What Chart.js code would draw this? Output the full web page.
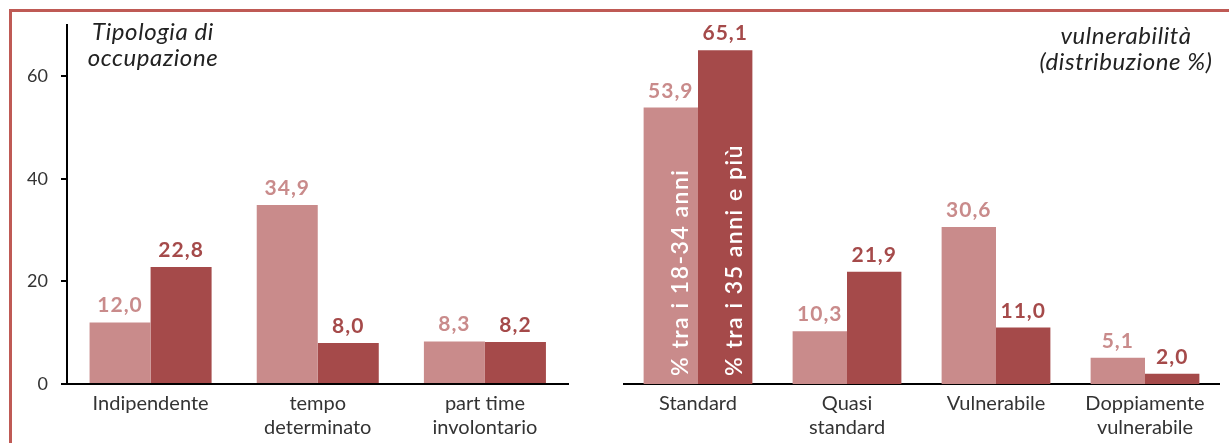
<!DOCTYPE html>
<html>
<head>
<meta charset="utf-8">
<title>Tipologia di occupazione e vulnerabilità</title>
<script src="https://cdn.jsdelivr.net/npm/chart.js@4.4.1/dist/chart.umd.min.js"></script>
<style>
  body { margin: 0; background: #fff; }
  #wrap { position: relative; width: 1229px; height: 443px; overflow: hidden; }
  .frame { position: absolute; left: 9px; top: 9px; width: 1400px; height: 600px;
           border-top: 3px solid #bf5a55; border-left: 3px solid #bf5a55; }
  canvas { position: absolute; top: 0; }
  #occChart { left: 0; }
  #vulnChart { left: 600px; }
</style>
</head>
<body>
<div id="wrap">
  <div class="frame"></div>
  <canvas id="occChart" width="600" height="443"></canvas>
  <canvas id="vulnChart" width="629" height="443"></canvas>
</div>
<script>
// series
const seriesNames = ['% tra i 18-34 anni', '% tra i 35 anni e più'];

// tipologia di occupazione
const occLabels = [['Indipendente'], ['tempo', 'determinato'], ['part time', 'involontario']];
const occYoung = [12.0, 34.9, 8.3];
const occOld = [22.8, 8.0, 8.2];

// vulnerabilità
const vulnLabels = [['Standard'], ['Quasi', 'standard'], ['Vulnerabile'], ['Doppiamente', 'vulnerabile']];
const vulnYoung = [53.9, 10.3, 30.6, 5.1];
const vulnOld = [65.1, 21.9, 11.0, 2.0];

const yTicks = [0, 20, 40, 60];
const yMax = 70;

const LIGHT = '#c98b8b';
const DARK = '#a54a4a';
const INK = '#333333';
const FONT = 'Lato, "Noto Sans", sans-serif';

const fmt = v => v.toFixed(1).replace('.', ',');

// value labels over the bars, series names inside the first pair, panel title
const barNotes = {
  id: 'barNotes',
  afterDatasetsDraw(chart, args, opts) {
    const ctx = chart.ctx;
    ctx.save();
    chart.data.datasets.forEach((ds, i) => {
      const meta = chart.getDatasetMeta(i);
      ctx.fillStyle = ds.backgroundColor;
      ctx.font = '700 21px ' + FONT;
      ctx.letterSpacing = '1px';
      ctx.textAlign = 'center';
      ctx.textBaseline = 'alphabetic';
      meta.data.forEach((bar, j) => {
        ctx.fillText(fmt(ds.data[j]), bar.x, bar.y - 10);
      });
      if (opts.names) {
        const bar = meta.data[0];
        ctx.save();
        ctx.translate(bar.x + 17, bar.base - 8);
        ctx.rotate(-Math.PI / 2);
        ctx.fillStyle = '#fff';
        ctx.font = '600 23px ' + FONT;
        ctx.letterSpacing = '1.5px';
        ctx.textAlign = 'left';
        ctx.fillText(ds.label, 0, 0);
        ctx.restore();
      }
    });
    if (opts.title) {
      ctx.fillStyle = '#222';
      ctx.font = 'italic 24px ' + FONT;
      ctx.letterSpacing = '0.6px';
      ctx.textAlign = 'center';
      opts.title.lines.forEach((line, k) => {
        ctx.fillText(line, opts.title.x, opts.title.y + k * 26);
      });
    }
    ctx.restore();
  }
};

function makeOptions(showY, padding, notes) {
  return {
    responsive: false,
    animation: false,
    layout: { padding: padding },
    plugins: {
      legend: { display: false },
      tooltip: { enabled: false },
      barNotes: notes
    },
    scales: {
      x: {
        grid: { display: false, drawTicks: false },
        border: { display: true, color: '#000', width: 2 },
        ticks: { color: INK, font: { family: FONT, size: 20, lineHeight: 1.2 }, padding: 8, maxRotation: 0, autoSkip: false },
        afterFit: s => { s.height = 59; }
      },
      y: {
        display: showY,
        min: 0,
        max: yMax,
        afterBuildTicks: s => { s.ticks = yTicks.map(v => ({ value: v })); },
        grid: { drawOnChartArea: false, drawTicks: true, tickLength: 6, color: '#000', lineWidth: 2 },
        border: { display: true, color: '#000', width: 2 },
        ticks: { color: INK, font: { family: FONT, size: 18 }, padding: 13 },
        afterFit: s => { if (showY) s.width = 67; }
      }
    }
  };
}

function dataset(label, data, color) {
  return {
    label: label,
    data: data,
    backgroundColor: color,
    categoryPercentage: 0.73,
    barPercentage: 1.0
  };
}

new Chart(document.getElementById('occChart').getContext('2d'), {
  type: 'bar',
  data: {
    labels: occLabels,
    datasets: [dataset(seriesNames[0], occYoung, LIGHT), dataset(seriesNames[1], occOld, DARK)]
  },
  plugins: [barNotes],
  options: makeOptions(true, { top: 25, right: 31.5, left: 0, bottom: 0 },
    { title: { lines: ['Tipologia di', 'occupazione'], x: 153, y: 40 } })
});

new Chart(document.getElementById('vulnChart').getContext('2d'), {
  type: 'bar',
  data: {
    labels: vulnLabels,
    datasets: [dataset(seriesNames[0], vulnYoung, LIGHT), dataset(seriesNames[1], vulnOld, DARK)]
  },
  plugins: [barNotes],
  options: makeOptions(false, { top: 25, right: 9.5, left: 23.5, bottom: 0 },
    { names: true, title: { lines: ['vulnerabilità', '(distribuzione %)'], x: 526, y: 44 } })
});
</script>
</body>
</html>
